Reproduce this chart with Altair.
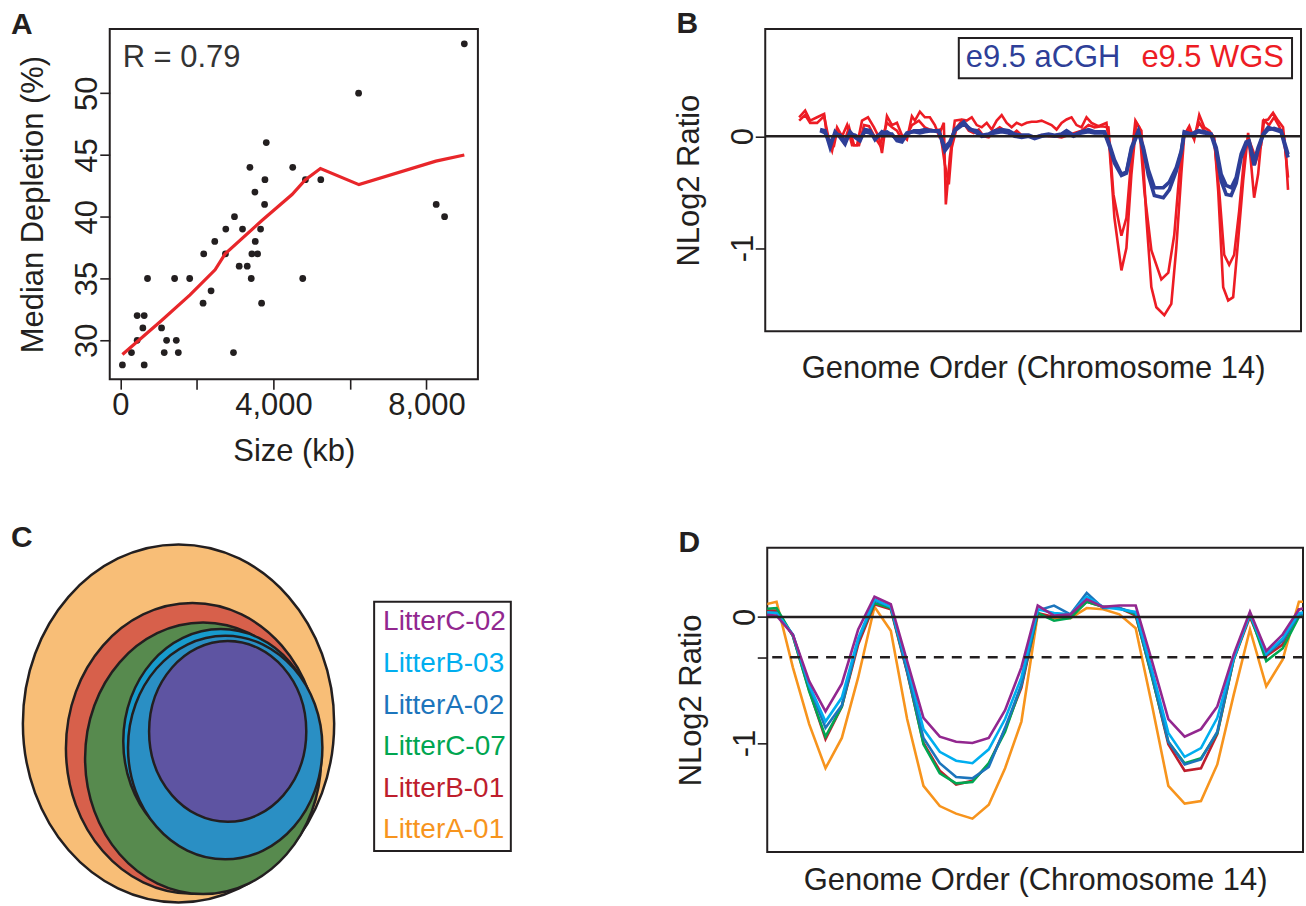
import altair as alt
import pandas as pd

FONT = "Liberation Sans"
INK = "#231f20"
FS = 31

# ---------------- Panel A: size vs depletion ----------------
size_kb = [52, 289, 437, 437, 621, 586, 621, 708, 1075, 1145, 1207, 1460, 1513, 1416, 1810,
           2160, 2177, 2369, 2466, 2745, 2754, 2955, 2981, 3104, 3191, 3314, 3384, 3419, 3436,
           3524, 3515, 3585, 3663, 3690, 3768, 3777, 3812, 4503, 4765, 4835, 5237, 6225, 8253,
           8472, 8988]
depletion = [28, 29, 30, 32, 32, 31, 28, 35, 31, 29, 30, 30, 29, 35, 35, 33, 37, 34, 38, 37,
             39, 29, 40, 36, 39, 36, 44, 35, 37, 38, 42, 37, 39, 33, 41, 43, 46, 44, 35, 43,
             43, 50, 41, 40, 54]
fit_kb = [52, 1075, 1819, 2474, 2737, 3698, 4485, 4835, 5228, 6234, 8244, 8988]
fit_dep = [28.85, 31.6, 33.67, 35.7, 37.0, 39.7, 41.8, 43.0, 43.9, 42.6, 44.5, 45.0]

# ---------------- Panel B: aCGH vs WGS ----------------
blue_bin = [55, 60, 65, 70, 75, 80, 85, 90, 95, 100, 105, 110, 117, 122, 127, 132, 137, 142, 149,
            155, 160, 167, 174, 180, 185, 190, 199, 205, 212, 217, 224, 230, 237, 244, 250, 257,
            264, 270, 277, 284, 290, 297, 302, 309, 317, 324, 330, 340, 345, 350, 357, 362, 367,
            374, 379, 384, 390, 399, 405, 412, 417, 420, 427, 434, 440, 447, 452, 457, 462, 467,
            472, 477, 482, 485, 490, 494, 499, 504, 510, 517, 524]
acgh_1 = [0.06, 0.05, -0.10, 0.04, -0.01, -0.07, 0.04, -0.01, -0.04, 0.06, 0.05, -0.03, 0.04,
          0.02, 0.02, -0.04, -0.05, 0.02, 0.05, 0.05, 0.06, 0.05, 0.05, -0.13, -0.07, 0.06, 0.13,
          0.06, 0.05, 0.01, 0.02, 0.05, 0.06, 0.05, 0.02, 0.01, 0.01, -0.01, 0.01, 0.02, 0.01,
          0.02, 0.05, 0.01, 0.04, 0.06, 0.04, 0.04, -0.07, -0.21, -0.34, -0.32, -0.10, 0.05,
          -0.10, -0.30, -0.46, -0.46, -0.41, -0.28, -0.13, 0.04, 0.02, 0.05, 0.04, 0.02, -0.10,
          -0.34, -0.44, -0.46, -0.37, -0.16, -0.05, -0.04, -0.23, -0.10, 0.02, 0.08, 0.06, 0.04,
          -0.19]
acgh_2 = [0.05, 0.03, -0.06, 0.02, 0.01, -0.04, 0.02, 0.01, -0.02, 0.04, 0.03, -0.01, 0.03,
          0.04, 0.01, -0.02, -0.03, 0.03, 0.04, 0.03, 0.04, 0.05, 0.04, -0.10, -0.05, 0.05, 0.11,
          0.07, 0.03, 0.00, 0.01, 0.03, 0.04, 0.03, 0.00, -0.01, 0.00, -0.02, 0.00, 0.01, 0.00,
          0.01, 0.03, 0.00, 0.03, 0.04, 0.03, 0.03, -0.09, -0.24, -0.35, -0.33, -0.12, 0.04,
          -0.12, -0.35, -0.53, -0.55, -0.48, -0.31, -0.14, 0.03, 0.01, 0.04, 0.03, 0.01, -0.13,
          -0.40, -0.52, -0.53, -0.42, -0.19, -0.07, -0.06, -0.26, -0.12, 0.01, 0.06, 0.07, 0.05,
          -0.16]
wgs1_bin = [34, 40, 45, 52, 59, 62, 67, 72, 77, 82, 87, 92, 97, 103, 109, 114, 117, 122, 127,
            132, 137, 142, 147, 150, 155, 160, 165, 170, 174, 179, 181, 185, 190, 197, 202, 207,
            212, 217, 222, 227, 232, 237, 242, 247, 252, 257, 262, 267, 272, 277, 282, 287, 292,
            297, 302, 307, 312, 317, 322, 327, 334, 342, 345, 350, 357, 362, 367, 372, 377, 382,
            387, 392, 400, 407, 412, 417, 420, 425, 430, 435, 440, 445, 450, 454, 459, 464, 469,
            474, 479, 484, 487, 490, 494, 499, 504, 509, 514, 519, 522, 524]
wgs_1 = [0.17, 0.23, 0.14, 0.17, 0.20, -0.01, -0.13, 0.08, 0.00, 0.10, -0.08, -0.08, 0.14, 0.17,
         0.08, -0.01, -0.15, 0.18, 0.10, 0.12, 0.01, -0.03, 0.18, 0.14, 0.22, 0.17, 0.17, 0.10,
         0.01, 0.12, -0.61, -0.19, 0.14, 0.15, 0.14, 0.17, 0.10, 0.08, 0.12, 0.06, 0.14, 0.19,
         0.12, 0.08, 0.12, 0.10, 0.12, 0.13, 0.13, 0.14, 0.12, 0.10, 0.06, 0.12, 0.15, 0.17,
         0.10, 0.08, 0.17, 0.12, 0.09, 0.12, -0.10, -0.73, -1.20, -1.00, -0.34, 0.12, 0.05,
         -0.73, -1.35, -1.53, -1.60, -1.50, -1.00, -0.34, 0.01, 0.09, -0.03, 0.19, 0.08, 0.05,
         -0.01, -0.49, -1.35, -1.47, -1.44, -0.93, -0.40, 0.03, -0.25, -0.55, -0.34, 0.14, 0.15,
         0.21, 0.14, 0.08, -0.19, -0.48]
wgs2_bin = [34, 40, 45, 52, 59, 64, 69, 72, 79, 84, 89, 94, 99, 104, 110, 115, 122, 127, 132,
            137, 142, 147, 154, 160, 165, 170, 175, 180, 184, 187, 192, 197, 204, 209, 214, 219,
            224, 230, 235, 240, 247, 252, 257, 264, 270, 277, 284, 290, 297, 304, 310, 317, 324,
            330, 337, 344, 349, 357, 362, 367, 371, 375, 380, 387, 397, 404, 410, 415, 419, 424,
            429, 435, 440, 447, 450, 455, 460, 465, 470, 475, 480, 484, 489, 492, 497, 500, 505,
            510, 515, 520, 524]
wgs_2 = [0.14, 0.19, 0.12, 0.12, 0.18, -0.04, -0.08, 0.05, -0.06, 0.08, -0.08, -0.08, 0.10,
         0.09, -0.01, -0.08, 0.12, 0.08, 0.05, -0.03, 0.01, 0.10, 0.14, 0.08, 0.06, 0.05, 0.06,
         -0.25, -0.43, -0.10, 0.08, 0.14, 0.05, 0.03, 0.06, 0.00, -0.01, 0.05, 0.08, 0.05, 0.01,
         0.05, 0.01, 0.00, -0.01, 0.01, 0.00, 0.00, -0.01, 0.01, 0.03, 0.05, 0.10, 0.08, 0.09,
         0.08, -0.52, -0.89, -0.73, -0.19, 0.14, 0.08, -0.49, -1.02, -1.28, -1.22, -0.88, -0.34,
         -0.01, 0.06, -0.01, 0.12, 0.05, 0.01, -0.04, -0.49, -1.06, -1.15, -1.06, -0.67, -0.19,
         -0.01, -0.13, -0.22, -0.08, 0.14, 0.10, 0.17, 0.09, -0.01, -0.37]
legend_b_labels = ["e9.5 aCGH", "e9.5 WGS"]
legend_b_colors = ["#2e3f98", "#ed1c24"]

# ---------------- Panel C: overlap of deleted regions ----------------
samples = ["LitterC-02", "LitterB-03", "LitterA-02", "LitterC-07", "LitterB-01", "LitterA-01"]
sample_colors = ["#92278f", "#00aeef", "#1c75bc", "#00a651", "#be1e2d", "#f7941d"]
circle_samples = ["LitterA-01", "LitterB-01", "LitterC-07", "LitterA-02", "LitterB-03", "LitterC-02"]
circle_fill = ["#f8be77", "#d7604b", "#578a4e", "#2a8fc4", "#179bcd", "#5e54a2"]
circle_cx = [0.0, 0.089, 0.158, 0.300, 0.272, 0.316]
circle_cy = [0.0, -0.140, -0.195, -0.135, -0.100, -0.045]
circle_area = [1.0, 0.66, 0.575, 0.39, 0.393, 0.255]

# ---------------- Panel D: six samples ----------------
d_bin = list(range(-1, 34))
litterA01 = [0.09, 0.12, -0.40, -0.85, -1.20, -0.96, -0.48, 0.08, -0.11, -0.81, -1.34, -1.50,
             -1.56, -1.60, -1.49, -1.20, -0.83, 0.02, -0.01, -0.01, 0.07, 0.06, 0.02, -0.09,
             -0.70, -1.34, -1.48, -1.46, -1.17, -0.62, -0.10, -0.55, -0.34, 0.12, 0.12]
litterB01 = [0.05, 0.05, -0.15, -0.58, -0.97, -0.71, -0.22, 0.10, 0.06, -0.44, -1.00, -1.22,
             -1.33, -1.30, -1.17, -0.89, -0.56, 0.03, 0.00, 0.01, 0.12, 0.08, 0.07, 0.01, -0.47,
             -1.01, -1.22, -1.20, -0.93, -0.34, 0.00, -0.31, -0.22, 0.06, 0.08]
litterC07 = [0.06, 0.07, -0.15, -0.59, -0.95, -0.71, -0.19, 0.11, 0.07, -0.43, -1.01, -1.24,
             -1.32, -1.31, -1.16, -0.91, -0.54, 0.03, -0.03, -0.01, 0.12, 0.08, 0.07, 0.02,
             -0.48, -0.99, -1.16, -1.12, -0.92, -0.34, 0.02, -0.35, -0.25, 0.00, 0.03]
litterA02 = [0.03, 0.03, -0.14, -0.55, -0.88, -0.70, -0.19, 0.13, 0.08, -0.43, -0.96, -1.16,
             -1.27, -1.28, -1.19, -0.88, -0.54, 0.05, 0.09, 0.02, 0.19, 0.07, 0.07, 0.03, -0.46,
             -0.99, -1.17, -1.13, -0.91, -0.33, 0.03, -0.30, -0.19, 0.02, 0.04]
litterB03 = [0.04, 0.03, -0.14, -0.54, -0.83, -0.64, -0.17, 0.14, 0.08, -0.38, -0.89, -1.07,
             -1.14, -1.16, -1.05, -0.81, -0.48, 0.06, 0.03, 0.02, 0.16, 0.08, 0.06, 0.04, -0.42,
             -0.92, -1.11, -1.04, -0.80, -0.33, 0.02, -0.29, -0.17, 0.03, 0.05]
litterC02 = [0.02, 0.01, -0.14, -0.51, -0.75, -0.53, -0.10, 0.16, 0.10, -0.35, -0.80, -0.95,
             -0.99, -1.00, -0.96, -0.74, -0.40, 0.09, 0.01, 0.02, 0.14, 0.08, 0.09, 0.09, -0.35,
             -0.81, -0.95, -0.89, -0.71, -0.30, 0.04, -0.27, -0.14, 0.06, 0.08]
d_threshold = -0.32

# ================= build =================
def letter(t, dx, dy):
    # panel tag, placed relative to the panel's plot origin
    return alt.Chart(pd.DataFrame({"tag": [t]})).mark_text(
        align="left", baseline="alphabetic", fontSize=30, fontWeight="bold", font=FONT,
        color=INK).encode(text="tag:N", x=alt.value(dx), y=alt.value(dy))

AXIS_COMMON = dict(labelFont=FONT, titleFont=FONT, labelFontSize=FS, titleFontSize=FS,
                   labelColor=INK, titleColor=INK, tickColor=INK, tickWidth=1.6, tickSize=10,
                   domain=False, grid=False, titleFontWeight="normal", labelFlush=False,
                   labelOverlap=False)

# ---- A ----
dfA = pd.DataFrame({"size_kb": size_kb, "depletion": depletion})
dfFit = pd.DataFrame({"size_kb": fit_kb, "depletion": fit_dep})
xA = alt.X("size_kb:Q", scale=alt.Scale(domain=[-279, 9343], nice=False, zero=False),
           axis=alt.Axis(values=[0, 2000, 4000, 6000, 8000],
                         labelExpr="datum.value % 4000 === 0 ? format(datum.value, ',') : ''",
                         title="Size (kb)", labelPadding=1, titlePadding=17, **AXIS_COMMON))
yA = alt.Y("depletion:Q", scale=alt.Scale(domain=[26.85, 55.2], nice=False, zero=False),
           axis=alt.Axis(values=[30, 35, 40, 45, 50], labelAngle=270, labelAlign="center",
                         labelBaseline="alphabetic", labelPadding=3, title="Median Depletion (%)",
                         titlePadding=22, **AXIS_COMMON))
A_pts = alt.Chart(dfA).mark_circle(size=46, color=INK, opacity=1).encode(x=xA, y=yA)
A_fit = alt.Chart(dfFit).mark_line(color="#e8262a", strokeWidth=3.2).encode(
    x="size_kb:Q", y="depletion:Q")
A_txt = alt.Chart(pd.DataFrame({"t": ["R = 0.79"]})).mark_text(
    align="left", baseline="alphabetic", fontSize=FS, font=FONT, color="#333333").encode(
    text="t:N", x=alt.value(13), y=alt.value(38))
panelA = alt.layer(A_pts, A_fit, A_txt, letter("A", -99, 5)).properties(width=369, height=351)

# ---- B ----
rows = []
for b, v in zip(wgs1_bin, wgs_1):
    rows.append({"bin": b, "ratio": v, "track": "WGS-1"})
for b, v in zip(wgs2_bin, wgs_2):
    rows.append({"bin": b, "ratio": v, "track": "WGS-2"})
dfBr = pd.DataFrame(rows)
rows = []
for b, v in zip(blue_bin, acgh_1):
    rows.append({"bin": b, "ratio": v, "track": "aCGH-1"})
for b, v in zip(blue_bin, acgh_2):
    rows.append({"bin": b, "ratio": v, "track": "aCGH-2"})
dfBb = pd.DataFrame(rows)

def genome_axis(pad):
    return alt.Axis(title="Genome Order (Chromosome 14)", ticks=False, labels=False,
                    titlePadding=pad, **AXIS_COMMON)

xB = alt.X("bin:Q", scale=alt.Scale(domain=[0, 537], nice=False, zero=False),
           axis=genome_axis(22))
ratio_label = "datum.value === 0 ? '0' : (datum.value === -1 ? '-1' : '')"
yB = alt.Y("ratio:Q", scale=alt.Scale(domain=[-1.745, 0.96], nice=False, zero=False),
           axis=alt.Axis(values=[-1, 0], labelExpr=ratio_label, labelAngle=270,
                         labelAlign="center", labelBaseline="alphabetic", labelPadding=3,
                         title="NLog2 Ratio", titlePadding=22, **AXIS_COMMON))
B_red = alt.Chart(dfBr).mark_line(color=legend_b_colors[1], strokeWidth=2.6).encode(
    x=xB, y=yB, detail="track:N")
B_blue = alt.Chart(dfBb).mark_line(color=legend_b_colors[0], strokeWidth=3.6).encode(
    x="bin:Q", y="ratio:Q", detail="track:N")
B_zero = alt.Chart(pd.DataFrame({"ratio": [0]})).mark_rule(color=INK, strokeWidth=2.5).encode(
    y="ratio:Q")
B_box = alt.Chart(pd.DataFrame({"x1": [194], "x2": [528], "y1": [0.88], "y2": [0.52]})).mark_rect(
    fillOpacity=0, stroke=INK, strokeWidth=2).encode(x="x1:Q", x2="x2:Q", y="y1:Q", y2="y2:Q")
B_leg = alt.Chart(pd.DataFrame({"label": legend_b_labels, "bin": [201, 377],
                                "ratio": [0.70, 0.70], "col": legend_b_colors})).mark_text(
    align="left", baseline="middle", fontSize=FS, font=FONT).encode(
    x="bin:Q", y="ratio:Q", text="label:N", color=alt.Color("col:N", scale=None))
panelB = alt.layer(B_red, B_blue, B_zero, B_box, B_leg, letter("B", -89, 4)).properties(
    width=537, height=303)

# ---- C ----
dfC = pd.DataFrame({"sample": circle_samples, "cx": circle_cx, "cy": circle_cy,
                    "area": circle_area, "fillc": circle_fill})
ELLIPSE = "M -1 0 A 1 1.15 0 1 1 1 0 A 1 1.15 0 1 1 -1 0 Z"
circles_marks = alt.Chart(dfC).mark_point(
    shape=ELLIPSE, filled=True, stroke=INK, strokeWidth=2.5, opacity=1, fillOpacity=1).encode(
    x=alt.X("cx:Q", scale=alt.Scale(domain=[-0.442, 1.052], nice=False, zero=False), axis=None),
    y=alt.Y("cy:Q", scale=alt.Scale(domain=[-0.992, 0.981], nice=False, zero=False), axis=None),
    size=alt.Size("area:Q", scale=alt.Scale(domain=[0, 1], range=[0, 97344]), legend=None),
    fill=alt.Fill("fillc:N", scale=None),
    order=alt.Order("area:Q", sort="descending"),
)
circles = alt.layer(circles_marks, letter("C", -99, -1)).properties(
    width=233, height=354, view=alt.ViewBackground(stroke="transparent"))

spacer = alt.Chart(pd.DataFrame({"v": [0]})).mark_point(opacity=0).properties(
    width=137, height=52, view=alt.ViewBackground(stroke="transparent"))
legendC = alt.Chart(pd.DataFrame({"sample": samples, "col": sample_colors})).mark_text(
    align="left", baseline="middle", fontSize=28, font=FONT).encode(
    y=alt.Y("sample:N", sort=samples, axis=None,
            scale=alt.Scale(paddingOuter=0.16, paddingInner=0)),
    x=alt.value(9),
    text="sample:N",
    color=alt.Color("col:N", scale=None),
).properties(width=137, height=250, view=alt.ViewBackground(stroke=INK, strokeWidth=2))
legend_col = alt.vconcat(spacer, legendC, spacing=0)

# ---- D ----
series = [("LitterA-01", litterA01), ("LitterB-01", litterB01), ("LitterC-07", litterC07),
          ("LitterA-02", litterA02), ("LitterB-03", litterB03), ("LitterC-02", litterC02)]
color_of = dict(zip(samples, sample_colors))
xD = alt.X("bin:Q", scale=alt.Scale(domain=[-0.57, 32.25], nice=False, zero=False),
           axis=genome_axis(14))
yD = alt.Y("ratio:Q", scale=alt.Scale(domain=[-1.865, 0.548], nice=False, zero=False),
           axis=alt.Axis(values=[-1, d_threshold, 0], labelExpr=ratio_label, labelAngle=270,
                         labelAlign="center", labelBaseline="alphabetic", labelPadding=3,
                         title="NLog2 Ratio", titlePadding=22, **AXIS_COMMON))
D_layers = []
for i, (name, vals) in enumerate(series):
    df = pd.DataFrame({"bin": d_bin, "ratio": vals})
    enc = dict(x=xD, y=yD) if i == 0 else dict(x="bin:Q", y="ratio:Q")
    D_layers.append(alt.Chart(df).mark_line(color=color_of[name], strokeWidth=2.6,
                                            clip=True).encode(**enc))
D_zero = alt.Chart(pd.DataFrame({"ratio": [0]})).mark_rule(color=INK, strokeWidth=2.5).encode(
    y="ratio:Q")
D_thr = alt.Chart(pd.DataFrame({"ratio": [d_threshold]})).mark_rule(
    color=INK, strokeWidth=2.5, strokeDash=[10, 8]).encode(y="ratio:Q")
panelD = alt.layer(*D_layers, D_zero, D_thr, letter("D", -89, 4)).properties(
    width=537, height=305)

top = alt.hconcat(panelA, panelB, spacing=194)
bottom = alt.hconcat(alt.hconcat(circles, legend_col, spacing=30), panelD, spacing=163)
chart = alt.vconcat(top, bottom, spacing=54).properties(
    padding={"left": 10, "top": 7, "right": 0, "bottom": 0}, background="white"
).configure_view(stroke=INK, strokeWidth=2)

chart.save("out.html", embed_options={"renderer": "svg", "actions": False})
